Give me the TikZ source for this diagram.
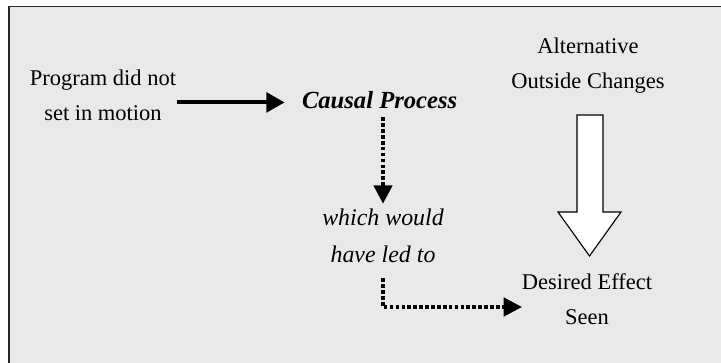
\documentclass[tikz,border=0pt]{standalone}
\usepackage{fontspec}
\setmainfont{Liberation Serif}
\usetikzlibrary{arrows.meta}
\definecolor{panelgray}{RGB}{233,233,233}
\begin{document}
\begin{tikzpicture}[thick,
	lbl/.style={inner sep=0pt,align=center,anchor=base,font=\fontsize{16}{24.9}\selectfont},
	ilbl/.style={lbl,font=\fontsize{17}{26.3}\selectfont\itshape},
	solidarrow/.style={-{Triangle[length=13pt,width=14pt]},line width=2.8pt},
	dotarrow/.style={-{Triangle[length=13pt,width=13pt]},line width=2.6pt,dash pattern=on 2.6pt off 1.6pt}]
		\useasboundingbox (0,0) rectangle (18.025,-9.05);
		\fill[panelgray] (0.23,-0.16) rectangle (18.3,-9.3);
		\draw[line width=1.1pt,black!85] (0.23,-9.3) -- (0.23,-0.16) -- (18.3,-0.16);
		\node[lbl] (prog) at (2.575,-3.0) {Program did not\\set in motion};
		\node[lbl,font=\fontsize{17.5}{26}\selectfont\bfseries\itshape] (causal) at (9.49,-2.7) {Causal Process};
		\node[ilbl] (which) at (9.575,-6.55) {which would\\have led to};
		\node[lbl] (alt) at (14.7,-2.2) {Alternative\\Outside Changes};
		\node[lbl] (desired) at (14.675,-8.1) {Desired Effect\\Seen};
		\coordinate (ledend) at (13.05,-7.675);
		\draw[solidarrow] (prog.east |- causal.west) ++(0,-2pt) -- ([xshift=-12pt,yshift=-2pt]causal.west);
		\draw[dotarrow,shorten <=6pt,shorten >=3pt] (causal.south -| which.north) -- (which.north);
		\draw[dotarrow,shorten <=11pt] (which.south) |- (ledend);
		\draw[line width=0.8pt,fill=white,line join=miter] (14.425,-2.875) -- (15.075,-2.875) -- (15.075,-5.3) -- (15.525,-5.3) -- (14.7375,-6.4) -- (13.95,-5.3) -- (14.425,-5.3) -- cycle;
\end{tikzpicture}
\end{document}
